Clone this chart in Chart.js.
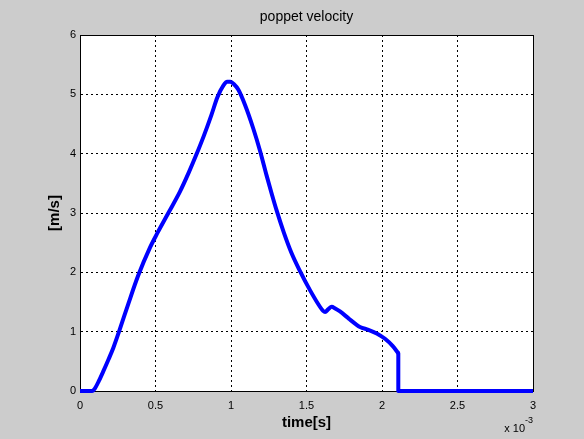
<!DOCTYPE html>
<html>
<head>
<meta charset="utf-8">
<script src="https://cdn.jsdelivr.net/npm/chart.js@4"></script>
<style>
  html, body { margin: 0; padding: 0; background: #cccccc; }
  #wrap { width: 584px; height: 439px; }
</style>
</head>
<body>
<div id="wrap"><canvas id="velocityChart" width="584" height="439"></canvas></div>
<script>
// time in ms (axis shows x 10^-3 s), velocity in m/s
const timeMs = [0, 0.08, 0.099, 0.125, 0.154, 0.19, 0.221, 0.265, 0.32, 0.386, 0.464, 0.512, 0.585, 0.662, 0.72, 0.77, 0.82, 0.87, 0.91, 0.95, 0.975, 0.995, 1.02, 1.048, 1.093, 1.148, 1.192, 1.236, 1.27, 1.30, 1.35, 1.40, 1.457, 1.523, 1.589, 1.61, 1.623, 1.645, 1.667, 1.69, 1.722, 1.78, 1.83, 1.854, 1.91, 1.965, 2.02, 2.07, 2.108, 2.108, 3.0];
const velocity = [0, 0, 0.045, 0.17, 0.33, 0.54, 0.73, 1.05, 1.47, 1.95, 2.42, 2.66, 3.0, 3.36, 3.68, 3.98, 4.3, 4.65, 4.95, 5.15, 5.21, 5.21, 5.17, 5.08, 4.82, 4.42, 4.05, 3.63, 3.32, 3.06, 2.67, 2.33, 2.02, 1.70, 1.42, 1.35, 1.33, 1.38, 1.42, 1.39, 1.34, 1.22, 1.12, 1.08, 1.03, 0.97, 0.88, 0.76, 0.635, 0, 0];

const xTicks = [0, 0.5, 1, 1.5, 2, 2.5, 3];
const yTicks = [0, 1, 2, 3, 4, 5, 6];
const chartTitle = 'poppet velocity';

const points = timeMs.map((t, i) => ({ x: t, y: velocity[i] }));
// the valve closes at the first repeated time: smooth curve before, straight drop after
const dropAt = timeMs.findIndex((t, i) => i > 0 && t === timeMs[i - 1]);
const openPart = points.slice(0, dropAt);
const closedPart = points.slice(dropAt - 1);

// gray figure, white axes box, black frame, title over the axes, "x 10^-3" note
const matlabLook = {
  id: 'matlabLook',
  beforeDraw(chart) {
    const { ctx, chartArea: a } = chart;
    ctx.save();
    ctx.fillStyle = '#cccccc';
    ctx.fillRect(0, 0, chart.width, chart.height);
    ctx.fillStyle = '#ffffff';
    ctx.fillRect(a.left, a.top, a.right - a.left, a.bottom - a.top);
    ctx.restore();
  },
  beforeDatasetsDraw(chart) {
    const { ctx, chartArea: a } = chart;
    ctx.save();
    ctx.strokeStyle = '#000';
    ctx.lineWidth = 1;
    ctx.strokeRect(Math.round(a.left) + 0.5, Math.round(a.top) + 0.5, Math.round(a.right - a.left), Math.round(a.bottom - a.top));
    ctx.restore();
  },
  afterDraw(chart) {
    const { ctx, chartArea: a } = chart;
    ctx.save();
    ctx.fillStyle = '#000';
    ctx.textBaseline = 'middle';
    ctx.textAlign = 'center';
    ctx.font = '14px "Liberation Sans", Arial, sans-serif';
    ctx.fillText(chartTitle, (a.left + a.right) / 2, 17);
    ctx.textAlign = 'right';
    ctx.font = '11px "Liberation Sans", Arial, sans-serif';
    ctx.fillText('x 10', a.right - 8, 429);
    ctx.textAlign = 'left';
    ctx.font = '9px "Liberation Sans", Arial, sans-serif';
    ctx.fillText('-3', a.right - 8, 421);
    ctx.restore();
  }
};

const tickFont = { family: '"Liberation Sans", Arial, sans-serif', size: 11 };
const gridStyle = {
  color: '#000',
  lineWidth: 1,
  drawTicks: false
};
const lineStyle = {
  showLine: true,
  borderColor: '#0000ff',
  borderWidth: 4,
  borderJoinStyle: 'round',
  pointRadius: 0,
  clip: 4
};

new Chart(document.getElementById('velocityChart'), {
  type: 'scatter',
  data: {
    datasets: [
      { ...lineStyle, label: chartTitle, data: openPart, cubicInterpolationMode: 'monotone' },
      { ...lineStyle, label: chartTitle + ' (closed)', data: closedPart, tension: 0 }
    ]
  },
  options: {
    responsive: false,
    animation: false,
    layout: { padding: { left: 0, right: 51, top: 35, bottom: 0 } },
    plugins: {
      legend: { display: false },
      tooltip: { enabled: false },
      title: { display: false }
    },
    scales: {
      x: {
        type: 'linear',
        min: 0,
        max: 3,
        afterBuildTicks: s => { s.ticks = xTicks.map(v => ({ value: v })); },
        ticks: { color: '#000', font: tickFont, padding: 8, maxRotation: 0, callback: v => String(v) },
        grid: gridStyle,
        border: { display: true, color: '#000', dash: [2, 3] },
        title: {
          display: true,
          text: 'time[s]',
          color: '#000',
          font: { family: '"Liberation Sans", Arial, sans-serif', size: 15, weight: 'bold', lineHeight: '18px' },
          padding: { top: 0, bottom: 7 }
        },
        afterFit: s => { s.height = 48; s.paddingLeft = 0; s.paddingRight = 0; }
      },
      y: {
        type: 'linear',
        min: 0,
        max: 6,
        afterBuildTicks: s => { s.ticks = yTicks.map(v => ({ value: v })); },
        ticks: { color: '#000', font: tickFont, padding: 4, callback: v => String(v) },
        grid: gridStyle,
        border: { display: true, color: '#000', dash: [2, 3] },
        title: {
          display: true,
          text: '[m/s]',
          color: '#000',
          font: { family: '"Liberation Sans", Arial, sans-serif', size: 15, weight: 'bold', lineHeight: '18px' },
          padding: { top: 46, bottom: 0 }
        },
        afterFit: s => { s.width = 80; s.paddingTop = 0; s.paddingBottom = 0; }
      }
    }
  },
  plugins: [matlabLook]
});
</script>
</body>
</html>
